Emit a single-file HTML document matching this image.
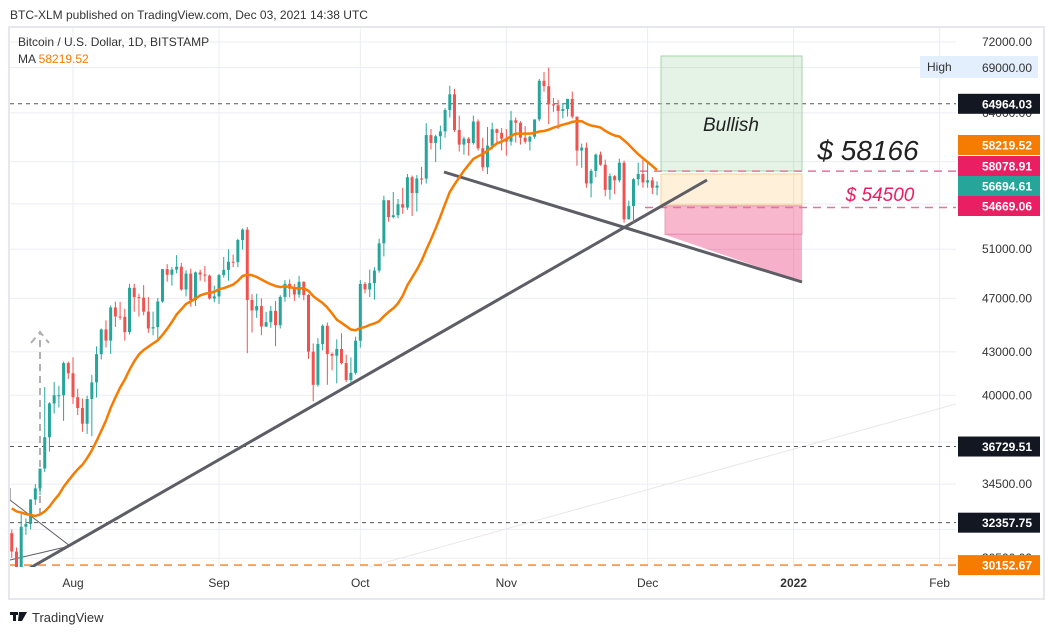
<!DOCTYPE html>
<html><head><meta charset="utf-8">
<style>
body{margin:0;background:#fff;font-family:"Liberation Sans",sans-serif;}
svg text{font-family:"Liberation Sans",sans-serif;}
</style></head>
<body>
<svg id="chart" width="1052" height="635" xmlns="http://www.w3.org/2000/svg">
<rect x="0" y="0" width="1052" height="635" fill="#fff"/>
<text x="10" y="19" font-size="12" fill="#333">BTC-XLM published on TradingView.com, Dec 03, 2021 14:38 UTC</text>
<rect x="9" y="27" width="1035" height="572" fill="none" stroke="#e6e8ed" stroke-width="2"/>
<defs><clipPath id="plot"><rect x="10" y="28" width="946" height="539"/></clipPath></defs>
<g id="grid"></g>
<g id="plotg" clip-path="url(#plot)"></g>
<g id="axis"></g>
<g id="taxis"></g>
<text x="18" y="46" font-size="12" fill="#333">Bitcoin / U.S. Dollar, 1D, BITSTAMP</text>
<text x="18" y="63" font-size="12" fill="#333">MA <tspan fill="#f57c00">58219.52</tspan></text>
<g>
<rect x="10" y="612" width="8" height="3" fill="#131722"/><rect x="13" y="612" width="3" height="9" fill="#131722"/><polygon points="19,612 27,612 22,621 18,621" fill="#131722"/>
<text x="32" y="622" font-size="13" fill="#333">TradingView</text></g>
</svg>
<script>
const closesPre=[33500,33800,34700,35300,33700,34200,33900,32900,33800,33500,34300,33100,32700,32800,31900,31400,31500,31800];
const closes=[30840,29790,32140,32290,33630,34260,35410,37300,39460,40000,40000,42200,41490,
39870,39160,38150,39750,40870,42830,44630,43810,46290,45600,45580,44430,47830,47100,47050,45970,44700,44800,46760,49340,48880,49300,49540,47700,48980,46860,49070,48900,48810,46990,47150,
48850,49280,49950,49920,51790,52690,46870,46060,46400,44850,45170,46030,44950,47110,48150,47760,47300,48310,47260,43010,40700,43560,44900,42840,42720,43200,42200,41030,41520,43800,
48140,47700,48200,49220,51500,55340,53800,53970,54970,54660,57490,56000,57370,57360,61670,60870,61550,62050,64300,66000,62200,60700,61300,60860,63080,60330,58450,60600,62270,61900,61300,
61000,63200,62950,61400,61000,61500,63300,67500,66900,64900,64800,64200,64400,65500,63600,60100,60400,56900,58100,59700,58700,56300,57600,57200,58900,53600,54800,57300,57800,57000,
57200,56500,56700];
const highs=[31990,31050,32860,32580,33650,34500,35410,40550,39540,40900,40640,42300,42300,
42600,40440,39780,39970,41380,43390,44700,45310,46450,46740,46730,46200,48150,48150,47370,48050,47100,45970,47030,49350,49750,49500,50500,49850,49250,49380,49150,49300,49600,48900,48000,
48950,50350,51000,50550,51900,52800,52920,47330,47360,47000,45950,46400,46800,47250,48450,48500,48150,48800,48350,47330,43600,44000,45000,45150,42950,43900,44350,42800,42600,44100,
48450,48300,49300,49500,51900,55750,55300,56100,55450,56500,57800,57650,57700,58500,62900,62300,61700,62650,64500,66950,66600,63700,61500,61450,63700,63300,61400,62500,62950,62350,62400,
62300,64200,63500,63100,62600,61600,63300,67700,68500,69000,65600,65400,65000,65500,66300,63500,60800,60900,58300,59800,60000,59200,57850,57700,59300,59100,55300,57400,58900,59200,
59000,57500,57100];
const lows=[30520,29300,29480,31710,32000,33330,33880,35200,36420,38800,39200,38330,41100,
39430,38700,37640,37510,37360,39850,42450,43300,42850,44820,45350,43800,44250,45970,45600,45700,44380,44200,43960,46660,48320,48000,49000,47600,47150,46350,46400,48400,48300,46900,46700,
46560,48650,48400,49500,49500,50970,42900,44400,45500,44200,44800,44750,43400,44700,46730,47070,46800,47050,46850,42500,39600,40570,43100,40700,41700,40800,42100,40900,40800,41400,
43300,47400,47100,46900,49050,50400,53400,53700,53700,54100,54450,53900,54300,56800,56900,60200,58950,60200,61400,63500,62000,60000,59700,59600,60700,60100,58100,57800,60200,60800,60100,
59600,60600,60900,60700,60800,60100,61300,63100,66300,62800,64100,62300,63400,63600,63400,58600,58400,56500,55600,57500,58600,55700,55400,55900,57000,53300,53600,53300,56700,56500,
56500,55900,55800];
const priceTicks=[72000,69000,64000,59000,55000,51000,47000,43000,40000,37000,34500,32000,30500];
const hiddenTicks=[32000];
const monthLabels=["Aug","Sep","Oct","Nov","Dec","2022","Feb"];
const monthDays=[31,62,92,123,153,184,215];
const firstDay=18;
const NS="http://www.w3.org/2000/svg";
function X(d){return 73+(d-31)*4.71;}
function Y(p){return 42+Math.log(72000/p)*601;}
function mk(tag,attrs,parent){const e=document.createElementNS(NS,tag);for(const k in attrs)e.setAttribute(k,attrs[k]);parent.appendChild(e);return e;}
const grid=document.getElementById('grid'),plot=document.getElementById('plotg'),axis=document.getElementById('axis'),taxis=document.getElementById('taxis');
priceTicks.forEach(p=>{const l=mk('line',{x1:10,x2:956,y1:Y(p),y2:Y(p),stroke:'#ebedf2','stroke-width':1},grid);


if(hiddenTicks.indexOf(p)>=0)return;
const t=mk('text',{x:1032,y:Y(p)+4,'font-size':12,fill:'#333','text-anchor':'end'},axis);t.textContent=p.toFixed(2);

});
monthLabels.forEach((m,i)=>{const x=X(monthDays[i]);const l=mk('line',{x1:x,x2:x,y1:28,y2:567,stroke:'#ebedf2','stroke-width':1},grid);


const t=mk('text',{x:x,y:587,'font-size':12,fill:'#333','text-anchor':'middle','font-weight':m==='2022'?'bold':'normal'},taxis);t.textContent=m;

});
let f=mk('line',{x1:250,y1:600,x2:956,y2:404,stroke:'#e8e8e8','stroke-width':1},plot);


[[64964.03,'#555','4,4',1],[36729.51,'#555','4,4',1],[32357.75,'#555','4,4',1],[30152.67,'#f7a35c','8,6',2]].forEach(h=>{
const l=mk('line',{x1:10,x2:956,y1:Y(h[0]),y2:Y(h[0]),stroke:h[1],'stroke-dasharray':h[2],'stroke-width':h[3]},plot);

});
const pb=[[661,56,141,115,'rgba(76,175,80,0.15)','#a5d6a7'],[661,174,141,31,'rgba(255,152,0,0.15)','#f5cfa0'],[665,206,137,28,'rgba(233,30,99,0.32)','#e6a0b8']];
pb.forEach(b=>{const r=mk('rect',{x:b[0],y:b[1],width:b[2],height:b[3],fill:b[4],stroke:b[5],'stroke-width':1},plot);

});
let tri=mk('polygon',{points:'663,234 802,234 802,282',fill:'rgba(233,30,99,0.35)'},plot);


[[Y(58078.91),640],[Y(54669.06),645]].forEach(h=>{const l=mk('line',{x1:h[1],x2:956,y1:h[0],y2:h[0],stroke:'#e57399','stroke-dasharray':'8,6','stroke-width':1.5},plot);

});
let t1=mk('line',{x1:444,y1:172,x2:802,y2:282,stroke:'#5d5d66','stroke-width':3},plot);


let t2=mk('line',{x1:30,y1:568,x2:707,y2:180,stroke:'#5d5d66','stroke-width':3},plot);


let t3=mk('polyline',{points:'10,488 10,500 70,546 10,560',fill:'none',stroke:'#5d5d66','stroke-width':1},plot);


let ar=mk('path',{d:'M40,515 L40,334 M31,343 L40,332 L49,343 M40,515 L50,507',fill:'none',stroke:'#b0b0b0','stroke-width':2,'stroke-dasharray':'7,5'},plot);


closes.forEach((c,i)=>{const d=firstDay+i;const o=i===0?closesPre[closesPre.length-1]:closes[i-1];
const col=c>=o?'#26a69a':'#ef5350';const x=X(d);
const w=mk('line',{x1:x,x2:x,y1:Y(highs[i]),y2:Y(lows[i]),stroke:col,'stroke-width':1},plot);


const top=Y(Math.max(o,c)),bot=Y(Math.min(o,c));
const b=mk('rect',{x:x-1.5,y:top,width:3,height:Math.max(1,bot-top),fill:col},plot);

});
const all=closesPre.concat(closes);let pts=[];
for(let i=0;i<closes.length;i++){const j=closesPre.length+i;let s=0,n=0;for(let k=Math.max(0,j-19);k<=j;k++){s+=all[k];n++;}pts.push(X(firstDay+i).toFixed(1)+','+Y(s/n).toFixed(1));}
const ma=mk('polyline',{points:pts.join(' '),fill:'none',stroke:'#f57c00','stroke-width':2.5},plot);


const svg=document.getElementById('chart');
let a1=mk('text',{x:731,y:131,'font-size':19,'font-style':'italic',fill:'#222','text-anchor':'middle'},svg);a1.textContent='Bullish';


let a2=mk('text',{x:868,y:160,'font-size':28,'font-style':'italic',fill:'#222','text-anchor':'middle'},svg);a2.textContent='$ 58166';


let a3=mk('text',{x:880,y:201,'font-size':19,'font-style':'italic',fill:'#e91e63','text-anchor':'middle'},svg);a3.textContent='$ 54500';


let hb=mk('rect',{x:920,y:56,width:118,height:22,fill:'#e3effd'},svg);


let ht=mk('text',{x:927,y:71,'font-size':12,fill:'#333'},svg);ht.textContent='High';


let hv=mk('text',{x:1032,y:72,'font-size':12,fill:'#333','text-anchor':'end'},svg);hv.textContent='69000.00';


const badges=[[64964.03,'#131722',Y(64964.03)],[58219.52,'#f57c00',145],[58078.91,'#e91e63',166],[56694.61,'#26a69a',186],[54669.06,'#e91e63',206],[36729.51,'#131722',Y(36729.51)],[32357.75,'#131722',Y(32357.75)],[30152.67,'#f57c00',Y(30152.67)]];
badges.forEach(b=>{const r=mk('rect',{x:958,y:b[2]-10,width:82,height:20,fill:b[1]},svg);


const t=mk('text',{x:1032,y:b[2]+4.5,'font-size':12,'font-weight':'bold',fill:'#fff','text-anchor':'end'},svg);t.textContent=b[0].toFixed(2);

});
</script>
</body></html>
